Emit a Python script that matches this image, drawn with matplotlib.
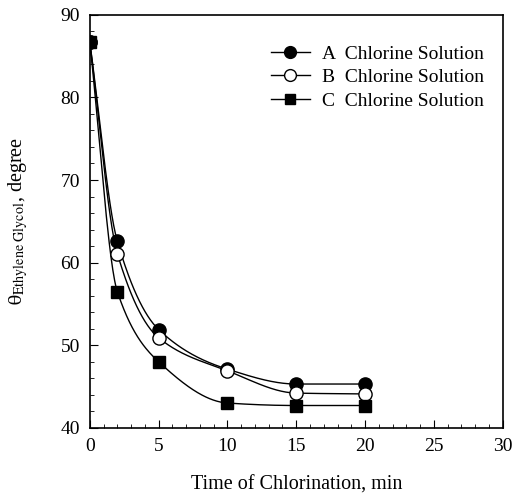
import numpy as np
import matplotlib
matplotlib.use("Agg")
import matplotlib.pyplot as plt
from matplotlib.ticker import MultipleLocator

plt.rcParams["font.family"] = ["Liberation Serif", "DejaVu Serif"]
plt.rcParams["mathtext.fontset"] = "stix"

# time of chlorination (min)
time = [0, 2, 5, 10, 15, 20]
# contact angle of ethylene glycol (degree)
theta_a = [86.7, 62.6, 51.9, 47.1, 45.3, 45.3]
theta_b = [86.7, 61.1, 50.9, 46.9, 44.2, 44.1]
theta_c = [86.7, 56.5, 48.0, 43.0, 42.7, 42.7]
labels = ["A  Chlorine Solution", "B  Chlorine Solution", "C  Chlorine Solution"]


def smooth(x, y, n=300):
    # monotone cubic (Fritsch-Carlson), numpy only
    x = np.asarray(x, float)
    y = np.asarray(y, float)
    h = np.diff(x)
    d = np.diff(y) / h
    m = np.zeros_like(y)
    m[0], m[-1] = d[0], d[-1]
    for i in range(1, len(x) - 1):
        if d[i - 1] * d[i] > 0:
            w1 = 2 * h[i] + h[i - 1]
            w2 = h[i] + 2 * h[i - 1]
            m[i] = (w1 + w2) / (w1 / d[i - 1] + w2 / d[i])
    xs = np.linspace(x[0], x[-1], n)
    idx = np.clip(np.searchsorted(x, xs, side="right") - 1, 0, len(x) - 2)
    t = (xs - x[idx]) / h[idx]
    h00 = 2 * t**3 - 3 * t**2 + 1
    h10 = t**3 - 2 * t**2 + t
    h01 = -2 * t**3 + 3 * t**2
    h11 = t**3 - t**2
    ys = h00 * y[idx] + h10 * h[idx] * m[idx] + h01 * y[idx + 1] + h11 * h[idx] * m[idx + 1]
    return xs, ys


fig, ax = plt.subplots(figsize=(5.13, 4.94), dpi=100)
fig.subplots_adjust(left=0.175, right=0.98, top=0.97, bottom=0.134)

styles = [("o", "black", 9.5), ("o", "white", 9.5), ("s", "black", 8.5)]
for y, lab, (mk, fc, ms) in zip([theta_a, theta_b, theta_c], labels, styles):
    xs, ys = smooth(time, y)
    ax.plot(xs, ys, color="black", lw=1)
    ax.plot(time, y, ls="none", marker=mk, mfc=fc, mec="black", ms=ms, mew=1, zorder=3)
    ax.plot([], [], color="black", lw=1, marker=mk, mfc=fc, mec="black", ms=ms - 1, label=lab)

ax.set_xlim(0, 30)
ax.set_ylim(40, 90)
ax.xaxis.set_major_locator(MultipleLocator(5))
ax.xaxis.set_minor_locator(MultipleLocator(1))
ax.yaxis.set_major_locator(MultipleLocator(10))
ax.yaxis.set_minor_locator(MultipleLocator(2))
ax.tick_params(which="both", direction="in", labelsize=14)
ax.tick_params(which="major", length=6, pad=7)
ax.tick_params(which="minor", length=3)
for s in ax.spines.values():
    s.set_linewidth(1.2)

ax.set_xlabel("Time of Chlorination, min", fontsize=14.5, labelpad=15)
ax.set_ylabel(r"$\mathrm{θ}_{\mathrm{Ethylene\ Glycol}}$, degree", fontsize=14.5, labelpad=22)

ax.legend(loc="upper right", bbox_to_anchor=(0.977, 0.95), frameon=False, fontsize=14,
          handlelength=2.0, handletextpad=0.6, labelspacing=0.3, borderpad=0)

fig.savefig("out.png", dpi=100)
